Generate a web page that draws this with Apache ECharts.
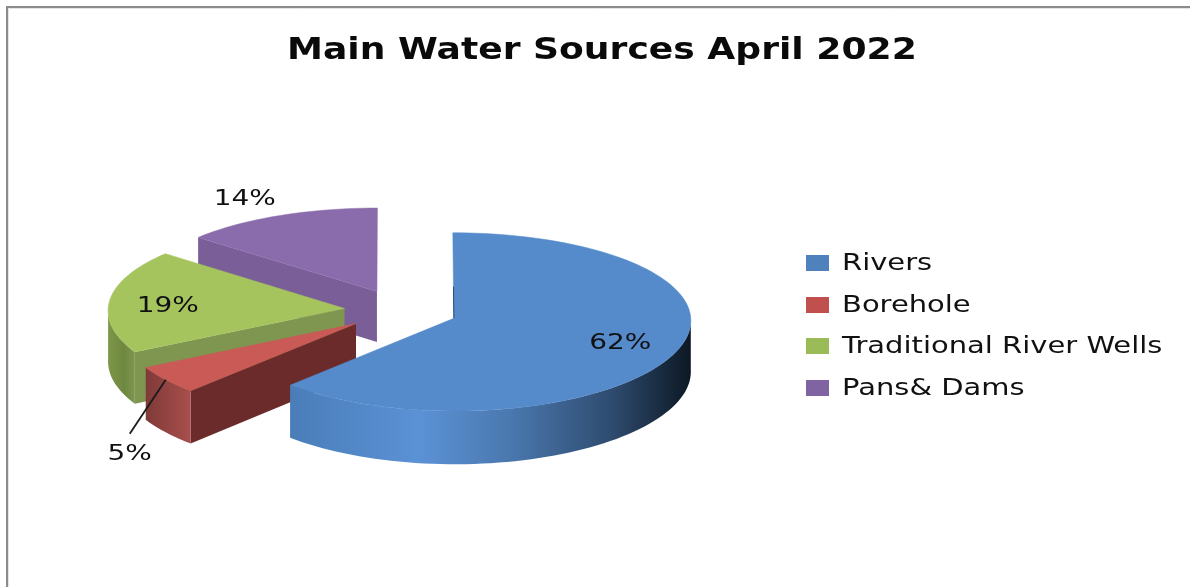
<!DOCTYPE html>
<html>
<head>
<meta charset="utf-8">
<title>Main Water Sources April 2022</title>
<style>
  html, body { margin: 0; padding: 0; background: #fff; }
  #chart { width: 1190px; height: 587px; }
</style>
<script src="https://cdn.jsdelivr.net/npm/echarts@6/dist/echarts.min.js"></script>
</head>
<body>
<div id="chart"></div>
<script>
// Chart data
const titleText = 'Main Water Sources April 2022';
const sources = ['Rivers', 'Borehole', 'Traditional River Wells', 'Pans& Dams'];
const shares = [62, 5, 19, 14];

// Palette per slice
const legendColors = ['#4f81bd', '#c0504d', '#9bbb59', '#8064a2'];
const topColors = ['#558acb', '#c95a56', '#a5c45e', '#8a6cac'];
const radialWallColors = ['#3f6796', '#6b2b2b', '#7f9650', '#7a5e98'];
const rimStops = [
  [[0, '#4a7db8'], [0.32, '#5b92d6'], [0.55, '#4a78ae'], [0.8, '#2f4c70'], [1, '#0c1824']],
  [[0, '#7f3a38'], [1, '#a84f4c']],
  [[0, '#7d9648'], [0.6, '#6f8840'], [1, '#7d9650']],
  [[0, '#7a5e98'], [1, '#7a5e98']]
];

// Tilted-disc projection
const center = { x: 401, y: 310.5 };
const radius = { x: 236.5, y: 88.5 };
const explode = 0.24;
const perspectiveX = 0.02;
const perspectiveY = 0.04;
const depth = 51;

// Label placement: distance along the slice's middle radius, then a pixel shift
const labelRadius = [0.75, 1.0, 0.74, 1.2];
const labelShift = [[0, 0], [-36, 74], [-3, 4], [-15, -2]];
const textFamily = '"DejaVu Sans"';
const labelFont = 22;
const labelStretch = 1.27;
const legendFont = 23;
const legendStretch = 1.26;

const total = shares.reduce((a, b) => a + b, 0);
const rad = d => d * Math.PI / 180;

function project(u, v) {
  const s = 1 + perspectiveY * v;
  return {
    x: center.x + radius.x * u * (1 + perspectiveX * v),
    y: center.y + radius.y * v * s,
    s
  };
}

function sliceGeometry(index) {
  const before = shares.slice(0, index).reduce((a, b) => a + b, 0);
  const start = before / total * 360;
  const end = (before + shares[index]) / total * 360;
  const mid = rad((start + end) / 2);
  const ou = explode * Math.sin(mid);
  const ov = -explode * Math.cos(mid);
  const at = (deg, r) => project(ou + r * Math.sin(rad(deg)), ov - r * Math.cos(rad(deg)));
  return { start, end, mid, ou, ov, at };
}

function arc(g, from, to) {
  const pts = [];
  const steps = Math.max(2, Math.ceil(Math.abs(to - from) / 2));
  for (let i = 0; i <= steps; i++) pts.push(g.at(from + (to - from) * i / steps, 1));
  return pts;
}

const toPair = p => [p.x, p.y];
const drop = p => [p.x, p.y + depth * p.s];

function renderSlice(index, api) {
  const value = api.value(0);
  const g = sliceGeometry(index);
  const apex = g.at(g.start, 0);
  const children = [];

  // Wall along the slice's first cut, seen when that cut faces the viewer
  if (g.start > 180) {
    const rim = g.at(g.start, 1);
    children.push({
      type: 'polygon',
      shape: { points: [toPair(rim), toPair(apex), drop(apex), drop(rim)] },
      style: { fill: radialWallColors[index] }
    });
  }

  // Outer rim: only the part of the arc on the near side of the disc
  const rimFrom = Math.max(g.start, 90);
  const rimTo = Math.min(g.end, 270);
  if (rimTo > rimFrom) {
    const rimArc = arc(g, rimFrom, rimTo);
    const points = rimArc.map(toPair).concat(rimArc.slice().reverse().map(drop));
    children.push({
      type: 'polygon',
      shape: { points },
      style: {
        fill: {
          type: 'linear', x: 0, y: 0, x2: 1, y2: 0,
          colorStops: rimStops[index].map(s => ({ offset: s[0], color: s[1] }))
        }
      }
    });
  }

  // Top face
  const top = [toPair(apex)].concat(arc(g, g.start, g.end).map(toPair));
  children.push({
    type: 'polygon',
    shape: { points: top },
    style: { fill: topColors[index], stroke: topColors[index], lineWidth: 0.5 }
  });

  // Dark seam where the largest slice's first cut meets the top face
  if (g.start === 0) {
    const seam = g.at(0, 0.36);
    children.push({
      type: 'line',
      shape: { x1: apex.x, y1: apex.y, x2: seam.x, y2: seam.y },
      style: { stroke: '#2c4a6e', lineWidth: 1 }
    });
  }

  // Percentage label, with a leader when it is pushed away from its slice
  const lr = labelRadius[index];
  const anchor = project(g.ou + lr * Math.sin(g.mid), g.ov - lr * Math.cos(g.mid));
  const shift = labelShift[index];
  if (shift[1] > 20) {
    children.push({
      type: 'line',
      z2: 20,
      shape: { x1: anchor.x, y1: anchor.y, x2: anchor.x + shift[0], y2: anchor.y + shift[1] - 20 },
      style: { stroke: '#1a1a1a', lineWidth: 1.8 }
    });
  }
  children.push({
    type: 'text',
    z2: 21,
    x: anchor.x + shift[0],
    y: anchor.y + shift[1],
    scaleX: labelStretch,
    style: {
      text: value + '%',
      fontFamily: textFamily,
      fontSize: labelFont,
      fill: '#111',
      align: 'center',
      verticalAlign: 'middle'
    }
  });

  return { type: 'group', children };
}

// Legend entries: a swatch and a name for each source
const legendX = 806;
const legendTextX = 842;
const legendRows = [263, 305, 346, 388];
const legendEntries = sources.flatMap((name, i) => [
  {
    type: 'rect',
    shape: { x: legendX, y: legendRows[i] - 8, width: 23, height: 16 },
    style: { fill: legendColors[i] }
  },
  {
    type: 'text',
    x: legendTextX,
    y: legendRows[i] + 1,
    scaleX: legendStretch,
    style: {
      text: name,
      fontFamily: textFamily,
      fontSize: legendFont,
      fill: '#111',
      align: 'left',
      verticalAlign: 'middle'
    }
  }
]);

const titleBlock = {
  type: 'text',
  x: 287,
  y: 51,
  scaleX: 1.165,
  style: {
    text: titleText,
    fontFamily: textFamily,
    fontWeight: 'bold',
    fontSize: 31,
    fill: '#0a0a0a',
    align: 'left',
    verticalAlign: 'middle'
  }
};

const frame = [
  { type: 'line', shape: { x1: 7, y1: 6, x2: 7, y2: 587 }, style: { stroke: '#8c8c8c', lineWidth: 2 } },
  { type: 'line', shape: { x1: 6, y1: 7, x2: 1190, y2: 7 }, style: { stroke: '#8c8c8c', lineWidth: 2 } },
  { type: 'line', shape: { x1: 8.5, y1: 8.5, x2: 8.5, y2: 587 }, style: { stroke: '#e4e4e4', lineWidth: 1 } },
  { type: 'line', shape: { x1: 8.5, y1: 8.5, x2: 1190, y2: 8.5 }, style: { stroke: '#e4e4e4', lineWidth: 1 } }
];

const chart = echarts.init(document.getElementById('chart'));
chart.setOption({
  backgroundColor: '#ffffff',
  animation: false,
  graphic: frame.concat([titleBlock], legendEntries),
  series: sources.map((name, i) => ({
    type: 'custom',
    name,
    coordinateSystem: 'none',
    z: 5 - i,
    silent: true,
    itemStyle: { color: legendColors[i] },
    data: [[shares[i]]],
    renderItem: (params, api) => renderSlice(i, api)
  }))
});
</script>
</body>
</html>
